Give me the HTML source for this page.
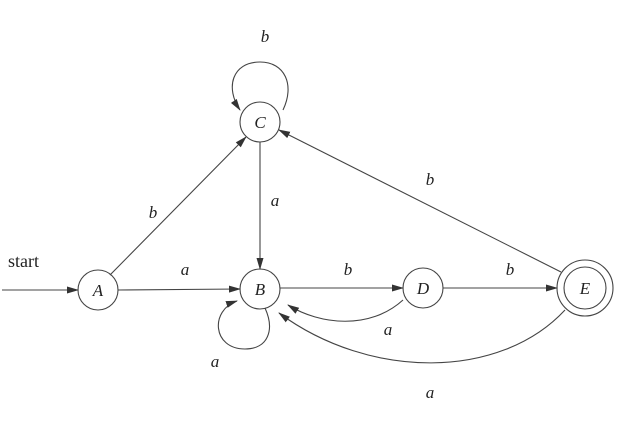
<!DOCTYPE html>
<html><head><style>body{margin:0;background:#fff}</style></head><body>
<svg width="626" height="424" viewBox="0 0 626 424" xmlns="http://www.w3.org/2000/svg" font-family="Liberation Serif, serif">
<defs><marker id="ar" markerWidth="12" markerHeight="8" refX="11" refY="4" orient="auto" markerUnits="userSpaceOnUse"><path d="M0,0.5 L12,4 L0,7.5 Z" fill="#333"/></marker></defs>
<g stroke="#444" stroke-width="1.1" fill="none">
<circle cx="98" cy="290" r="20"/>
<circle cx="260" cy="289" r="20"/>
<circle cx="260" cy="122" r="20"/>
<circle cx="423" cy="288" r="20"/>
<circle cx="585" cy="288" r="28"/>
<circle cx="585" cy="288" r="21"/>
<line x1="2" y1="290" x2="78" y2="290" marker-end="url(#ar)"/>
<line x1="118" y1="290" x2="240" y2="289" marker-end="url(#ar)"/>
<line x1="110" y1="275" x2="246" y2="137" marker-end="url(#ar)"/>
<line x1="260" y1="142" x2="260" y2="269" marker-end="url(#ar)"/>
<line x1="280" y1="288" x2="403" y2="288" marker-end="url(#ar)"/>
<line x1="443" y1="288" x2="557" y2="288" marker-end="url(#ar)"/>
<line x1="561" y1="272" x2="279" y2="130" marker-end="url(#ar)"/>
<path d="M283,110 C295,85 285,62 260,62 C232,62 225,88 240,110" marker-end="url(#ar)"/>
<path d="M265,308 C275,330 268,349 245,349 C212,349 210,310 237,301" marker-end="url(#ar)"/>
<path d="M403,300 C370,330 320,325 288,305" marker-end="url(#ar)"/>
<path d="M565,310 C500,380 370,380 279,313" marker-end="url(#ar)"/>
</g>
<g font-style="italic" font-size="17" fill="#222" text-anchor="middle">
<text x="98" y="296">A</text><text x="260" y="295">B</text><text x="260" y="128">C</text>
<text x="423" y="294">D</text><text x="585" y="294">E</text>
<text x="265" y="42">b</text><text x="153" y="218">b</text><text x="275" y="206">a</text>
<text x="185" y="275">a</text><text x="348" y="275">b</text><text x="510" y="275">b</text>
<text x="430" y="185">b</text><text x="388" y="335">a</text><text x="215" y="367">a</text>
<text x="430" y="398">a</text>
</g>
<text x="8" y="267" font-size="18" fill="#222">start</text>
</svg>
</body></html>
